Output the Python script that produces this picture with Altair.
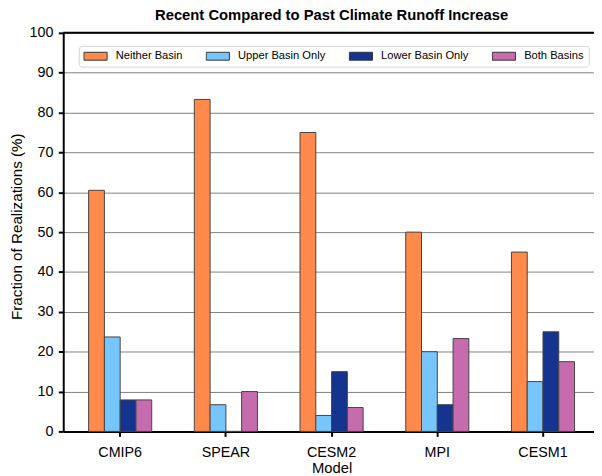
import altair as alt
import pandas as pd

models = ["CMIP6", "SPEAR", "CESM2", "MPI", "CESM1"]
categories = ["Neither Basin", "Upper Basin Only", "Lower Basin Only", "Both Basins"]
neither = [60.5, 83.3, 75.0, 50.0, 45.0]
upper = [23.7, 6.7, 4.0, 20.0, 12.5]
lower = [7.9, 0.0, 15.0, 6.7, 25.0]
both = [7.9, 10.0, 6.0, 23.3, 17.5]
colors = ["#FF8A4B", "#76C6FC", "#15348F", "#C66BAD"]
y_ticks = list(range(0, 101, 10))

rows = []
for cat, vals in zip(categories, [neither, upper, lower, both]):
    for m, v in zip(models, vals):
        rows.append({"Model": m, "Category": cat, "Value": v})
df = pd.DataFrame(rows)

FONT = "Liberation Sans"

y_axis = alt.Axis(
    values=y_ticks, title="Fraction of Realizations (%)", grid=True,
    gridColor="#808080", gridWidth=1, labelPadding=5.5, labelOverlap=False,
    titleX=-42.5, titleY=196, titleAngle=270, titleAlign="center",
    titleBaseline="alphabetic", titleFontSize=15.4,
)
y_scale = alt.Scale(domain=[0, 100], nice=False)

bars = alt.Chart(df).mark_bar(stroke="#444444", strokeWidth=1).encode(
    x=alt.X(
        "Model:N",
        sort=models,
        scale=alt.Scale(range=[0, 544], paddingInner=0.403, paddingOuter=0.24),
        axis=alt.Axis(
            title="Model", labelAngle=0, labelPadding=9, grid=False,
            titleX=272, titleY=42, titleBaseline="alphabetic", titleAlign="center",
        ),
    ),
    xOffset=alt.XOffset("Category:N", sort=categories,
                        scale=alt.Scale(paddingInner=0, paddingOuter=0)),
    y=alt.Y("Value:Q", scale=y_scale, axis=y_axis),
    color=alt.Color(
        "Category:N",
        sort=categories,
        scale=alt.Scale(domain=categories, range=colors),
        legend=alt.Legend(
            title=None, orient="none", legendX=15.7, legendY=13.2,
            direction="horizontal", columns=4,
            symbolType="M-1,-0.34L1,-0.34L1,0.34L-1,0.34Z", symbolSize=552,
            symbolStrokeColor="#333333", symbolStrokeWidth=1, symbolOpacity=1,
            labelFontSize=11.3, labelOffset=8, columnPadding=23, padding=4.5,
            fillColor="white", strokeColor="#d5d5d5", cornerRadius=3,
            clipHeight=12, labelColor="black", labelFont=FONT,
        ),
    ),
)

top_spine = alt.Chart(pd.DataFrame({"Value": [y_ticks[-1]]})).mark_rule(
    color="black", strokeWidth=2
).encode(y=alt.Y("Value:Q", scale=y_scale, axis=y_axis))

chart = alt.layer(bars, top_spine).properties(
    width=538,
    height=404,
    padding={"left": 56, "top": 22, "right": 0, "bottom": 42},
    autosize=alt.AutoSizeParams(type="none"),
    title=alt.TitleParams(
        text="Recent Compared to Past Climate Runoff Increase",
        fontSize=15, fontWeight="bold", font=FONT, color="black",
        anchor="middle", dx=3, offset=2,
    ),
).configure(
    font=FONT,
    view=alt.ViewConfig(stroke=None),
    axis=alt.AxisConfig(
        domainColor="black", domainWidth=2, tickColor="black", tickWidth=2,
        tickSize=5, labelColor="black", labelFontSize=14.5, labelFont=FONT,
        titleFont=FONT, titleFontSize=15, titleFontWeight="normal",
        titleColor="black",
    ),
)

chart.save("out.html", embed_options={"renderer": "svg", "actions": False})
